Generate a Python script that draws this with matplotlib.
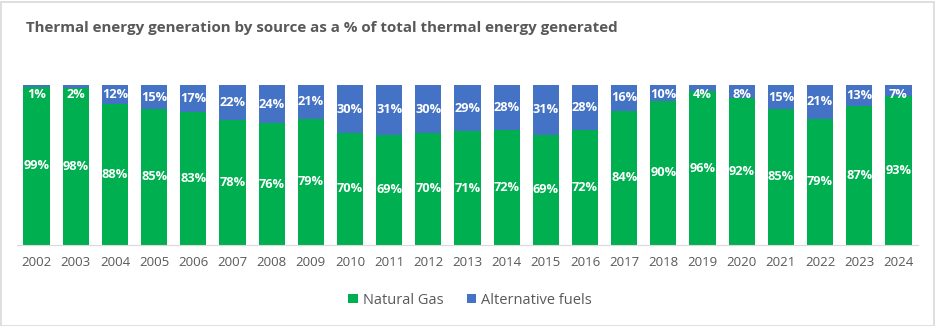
import matplotlib
matplotlib.use("Agg")
import matplotlib.pyplot as plt
from matplotlib.patches import Rectangle

years = [str(y) for y in range(2002, 2025)]
natural_gas = [99, 98, 88, 85, 83, 78, 76, 79, 70, 69, 70, 71, 72, 69, 72, 84, 90, 96, 92, 85, 79, 87, 93]
alternative = [1, 2, 12, 15, 17, 22, 24, 21, 30, 31, 30, 29, 28, 31, 28, 16, 10, 4, 8, 15, 21, 13, 7]

GREEN = "#00B050"
BLUE = "#4472C4"
GRAY = "#595959"

plt.rcParams['font.family'] = ['Open Sans', 'DejaVu Sans']

W, H = 935, 326
fig = plt.figure(figsize=(W / 100, H / 100), dpi=100)
ax = fig.add_axes([17 / W, 1 - 245 / H, (918 - 17) / W, 160 / H])

x = list(range(len(years)))
bw = 0.67
ax.bar(x, natural_gas, width=bw, color=GREEN, label="Natural Gas")
ax.bar(x, alternative, width=bw, bottom=natural_gas, color=BLUE, label="Alternative fuels")

for i, (g, a) in enumerate(zip(natural_gas, alternative)):
    ax.text(i, g / 2, f"{g}%", ha="center", va="center", color="white",
            fontsize=9.2, fontweight="bold")
    yc = min(g + a / 2, 94.0)
    ax.text(i, yc, f"{a}%", ha="center", va="center", color="white",
            fontsize=9.2, fontweight="bold")

ax.set_xlim(-0.5, len(years) - 0.5)
ax.set_ylim(0, 100)
ax.set_xticks(x)
ax.set_xticklabels(years, fontsize=9.5, color=GRAY)
ax.tick_params(axis="x", length=0, pad=8)
ax.set_yticks([])
for s in ["top", "right", "left"]:
    ax.spines[s].set_visible(False)
ax.spines["bottom"].set_color("#D9D9D9")

fig.text(26 / W, 1 - 28 / H, "Thermal energy generation by source as a % of total thermal energy generated",
         fontsize=10.9, fontweight="bold", color=GRAY, va="center", ha="left")

leg = fig.legend(loc="center", bbox_to_anchor=(470 / W, 1 - 300 / H), ncol=2, frameon=False,
                 fontsize=10.5, handlelength=0.65, handleheight=0.65, columnspacing=1.6,
                 handletextpad=0.35)
for t in leg.get_texts():
    t.set_color(GRAY)

fig.patches.append(Rectangle((0.5 / W, 0.5 / H), 1 - 2 / W, 1 - 2 / H, transform=fig.transFigure,
                             fill=False, edgecolor="#D9D9D9", linewidth=1.2))

fig.savefig("out.png", dpi=100)
